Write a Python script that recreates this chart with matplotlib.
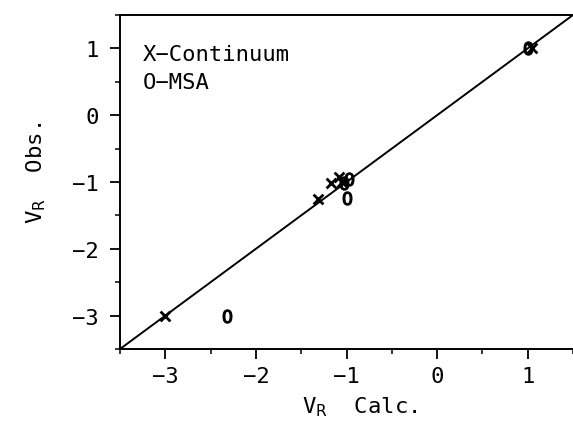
import matplotlib
matplotlib.use("Agg")
import matplotlib.pyplot as plt
from matplotlib.ticker import MultipleLocator

# Continuum model (calc, obs)
cont_calc = [-3.0, -1.32, -1.17, -1.08, -1.05, 1.05]
cont_obs = [-3.0, -1.25, -1.02, -0.92, -1.0, 1.0]

# MSA model (calc, obs)
msa_calc = [-2.32, -1.0, -0.97, -1.03, 1.0]
msa_obs = [-3.0, -1.24, -0.95, -1.02, 1.0]

x_ticks = [-3, -2, -1, 0, 1]
y_ticks = [-3, -2, -1, 0, 1]
lims = [-3.5, 1.5]

plt.rcParams["font.family"] = ["DejaVu Sans Mono"]

fig = plt.figure(figsize=(5.73, 4.27), dpi=100)
ax = fig.add_axes([120 / 573, 77 / 427, 453 / 573, 334 / 427])

ax.plot(lims, lims, color="black", lw=1.4, zorder=1)
ax.scatter(cont_calc, cont_obs, marker="x", s=50, color="black", linewidths=2.0, zorder=3)
ax.scatter(msa_calc, msa_obs, marker="$0$", s=90, color="black", linewidths=0.9, zorder=3)

ax.set_xlim(lims)
ax.set_ylim(lims)
ax.set_xticks(x_ticks)
ax.set_yticks(y_ticks)
ax.set_xticklabels([f"{v:d}".replace("-", "\u2212") for v in x_ticks])
ax.set_yticklabels([f"{v:d}".replace("-", "\u2212") for v in y_ticks])
ax.xaxis.set_minor_locator(MultipleLocator(0.5))
ax.yaxis.set_minor_locator(MultipleLocator(0.5))
ax.tick_params(which="major", direction="out", length=7, width=1.3, labelsize=16)
ax.tick_params(axis="y", which="major", pad=8)
ax.tick_params(axis="x", which="major", pad=5)
ax.tick_params(which="minor", direction="out", length=3.5, width=1.1)
ax.spines["right"].set_visible(False)
for s in ("left", "bottom", "top"):
    ax.spines[s].set_linewidth(1.4)

ax.set_xlabel(r"V$_\mathsf{R}$  Calc.", fontsize=16, labelpad=0)
ax.xaxis.set_label_coords(0.53, -0.135)
ax.set_ylabel(r"V$_\mathsf{R}$  Obs.", fontsize=16, labelpad=0)
ax.yaxis.set_label_coords(-0.16, 0.53)

ax.text(0.05, 0.883, "X\u2212Continuum", transform=ax.transAxes, fontsize=16, va="center")
ax.text(0.05, 0.80, "O\u2212MSA", transform=ax.transAxes, fontsize=16, va="center")

fig.savefig("out.png", dpi=100)
